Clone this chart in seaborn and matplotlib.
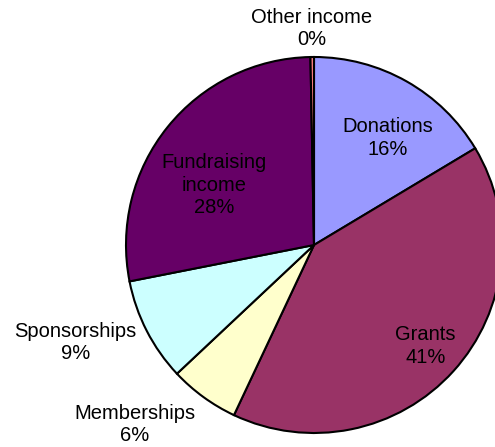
import numpy as np
import matplotlib
matplotlib.use("Agg")
import matplotlib.pyplot as plt
import seaborn as sns

# income sources, clockwise from 12 o'clock
categories = ["Donations", "Grants", "Memberships", "Sponsorships",
              "Fundraising\nincome", "Other income"]
shares = [16.4, 40.6, 6.0, 8.9, 27.8, 0.3]
colours = ["#9999FF", "#993366", "#FFFFCC", "#CCFFFF", "#660066", "#FF8080"]

# label placement: radius (in pie radii) and angular nudge from wedge middle (deg)
label_radius = [0.69, 0.80, 1.35, 1.37, 0.62, 1.15]
label_nudge = [-5, 0, -9, -5, 8, 0]

sns.set_theme(style="white")
plt.rcParams["font.family"] = ["Liberation Sans", "DejaVu Sans"]

fig = plt.figure(figsize=(4.95, 4.47), dpi=100)
# pie centre at (314, 245) px, radius 188 px
R = 188
ax = fig.add_axes([(314 - R) / 495, (447 - 245 - R) / 447, 2 * R / 495, 2 * R / 447])

wedges, _ = ax.pie(shares, colors=colours, startangle=90, counterclock=False,
                   radius=1, wedgeprops=dict(edgecolor="black", linewidth=1.5))
for w in wedges:
    w.set_clip_on(False)
ax.set_xlim(-1, 1)
ax.set_ylim(-1, 1)
ax.axis("off")

total = sum(shares)
for w, name, val, rr, nudge in zip(wedges, categories, shares, label_radius, label_nudge):
    mid = np.deg2rad((w.theta1 + w.theta2) / 2 + nudge)
    x, y = rr * np.cos(mid), rr * np.sin(mid)
    ax.text(x, y, f"{name}\n{val / total * 100:.0f}%", ha="center", va="center",
            fontsize=14.5, color="black", linespacing=1.22, clip_on=False)

fig.savefig("out.png", dpi=100)
